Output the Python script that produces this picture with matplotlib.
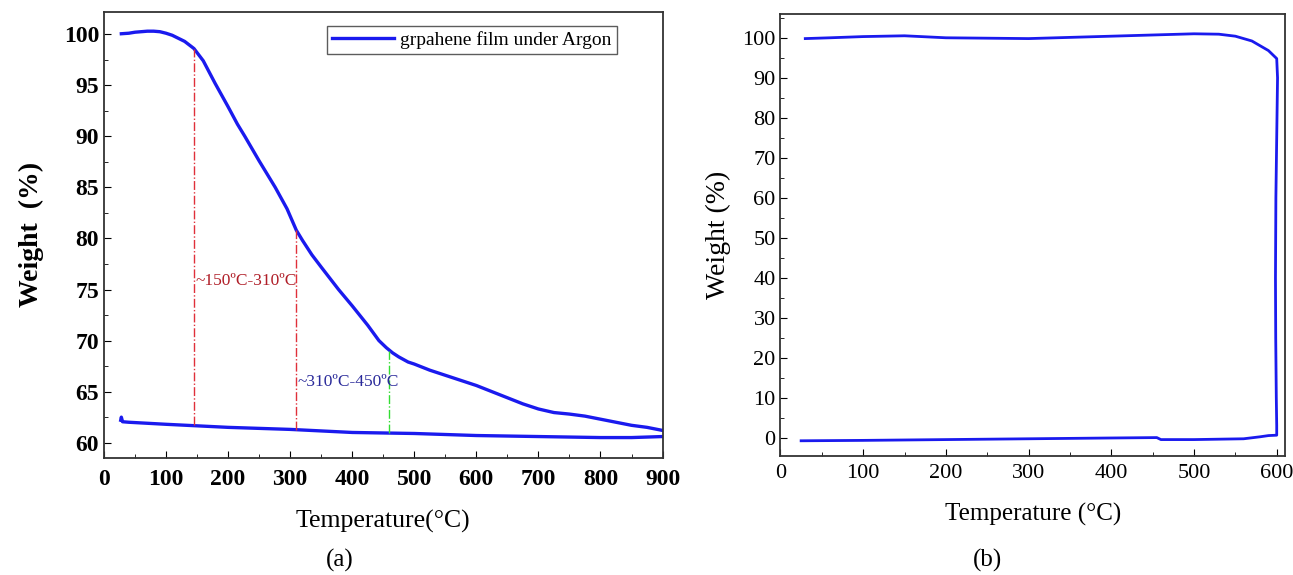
import matplotlib
matplotlib.use("Agg")
import matplotlib.pyplot as plt
from matplotlib.ticker import MultipleLocator

plt.rcParams['font.family'] = ['Liberation Serif', 'DejaVu Serif']
plt.rcParams['mathtext.fontset'] = 'stix'

# ---- Panel (a): graphene film under Argon ----
a_heat_T = [28, 40, 50, 60, 70, 80, 90, 100, 110, 120, 130, 145, 160, 179, 200, 215, 227, 250, 265, 276,
            295, 310, 320, 335, 350, 378, 400, 425, 443, 455, 465, 475, 490, 500, 525, 550, 575, 600,
            625, 650, 675, 700, 725, 750, 775, 800, 825, 850, 875, 900]
a_heat_W = [100.05, 100.1, 100.2, 100.25, 100.3, 100.3, 100.25, 100.1, 99.9, 99.6, 99.3, 98.6, 97.4, 95.2,
            92.9, 91.2, 90.0, 87.6, 86.1, 85.0, 82.9, 80.8, 79.8, 78.4, 77.2, 75.0, 73.4, 71.5, 70.0,
            69.3, 68.8, 68.4, 67.9, 67.7, 67.1, 66.6, 66.1, 65.6, 65.0, 64.4, 63.8, 63.3, 62.95, 62.8,
            62.6, 62.3, 62.0, 61.7, 61.5, 61.2]
a_cool_T = [900, 850, 800, 700, 600, 500, 400, 300, 200, 100, 40, 30, 28, 27]
a_cool_W = [60.6, 60.5, 60.5, 60.6, 60.7, 60.9, 61.0, 61.3, 61.5, 61.8, 62.0, 62.05, 62.5, 62.2]

a_vlines_T = [145, 310, 460]
a_vlines_ybot = [61.7, 61.2, 60.9]
a_vlines_ytop = [98.6, 80.8, 69.0]
a_vlines_col = ['#e0303a', '#e0303a', '#33dd33']

# ---- Panel (b) ----
b_T = [30, 60, 100, 150, 200, 250, 300, 350, 400, 450, 500, 530, 550, 570, 590, 600,
       601, 600, 599, 598.5, 598.8, 599.5, 600, 600,
       590, 580, 560, 500, 460, 455, 400, 300, 200, 100, 25]
b_W = [99.8, 100.0, 100.3, 100.5, 100.0, 99.9, 99.8, 100.1, 100.4, 100.7, 101.0, 100.9, 100.4, 99.2, 96.8, 94.8,
       90.0, 75.0, 60.0, 40.0, 25.0, 10.0, 3.0, 0.6,
       0.5, 0.2, -0.3, -0.5, -0.5, 0.0, -0.1, -0.3, -0.5, -0.7, -0.8]

blue = '#1a1aee'

fig = plt.figure(figsize=(12.93, 5.75), dpi=100)
ax1 = fig.add_axes([0.0804, 0.2035, 0.432, 0.776])
ax2 = fig.add_axes([0.6036, 0.207, 0.3902, 0.769])

# panel a
ax1.plot(a_heat_T, a_heat_W, color=blue, lw=2.4, label='grpahene film under Argon')
ax1.plot(a_cool_T, a_cool_W, color=blue, lw=2.4)
for t, yb, yt, c in zip(a_vlines_T, a_vlines_ybot, a_vlines_ytop, a_vlines_col):
    ax1.plot([t, t], [yb, yt], color=c, lw=1.0, ls='-.')
ax1.text(147, 75.8, '~150ºC-310ºC', color='#b01e28', fontsize=12.5, va='center', ha='left')
ax1.text(312, 65.9, '~310ºC-450ºC', color='#2a2a9a', fontsize=12.5, va='center', ha='left')
ax1.set_xlim(0, 900)
ax1.set_ylim(58.5, 102.2)
ax1.xaxis.set_major_locator(MultipleLocator(100))
ax1.xaxis.set_minor_locator(MultipleLocator(50))
ax1.yaxis.set_major_locator(MultipleLocator(5))
ax1.yaxis.set_minor_locator(MultipleLocator(2.5))
ax1.tick_params(which='both', direction='in', labelsize=17)
ax1.tick_params(which='major', length=5)
ax1.tick_params(which='minor', length=3)
ax1.tick_params(axis='x', pad=8)
for lab in ax1.get_xticklabels() + ax1.get_yticklabels():
    lab.set_fontweight('bold')
ax1.set_xlabel('Temperature(°C)', fontsize=18.5, labelpad=14)
ax1.set_ylabel('Weight  (%)', fontsize=20, fontweight='bold', labelpad=14)
leg = ax1.legend(loc='upper right', bbox_to_anchor=(0.935, 0.99), fontsize=14, fancybox=False,
                 edgecolor='#333333', handlelength=3.2, borderpad=0.25, handletextpad=0.3)
leg.get_frame().set_linewidth(1.0)

# panel b
ax2.plot(b_T, b_W, color=blue, lw=2.0)
ax2.set_xlim(0, 610)
ax2.set_ylim(-4.6, 106)
ax2.xaxis.set_major_locator(MultipleLocator(100))
ax2.xaxis.set_minor_locator(MultipleLocator(50))
ax2.yaxis.set_major_locator(MultipleLocator(10))
ax2.yaxis.set_minor_locator(MultipleLocator(5))
ax2.tick_params(which='both', direction='in', labelsize=16)
ax2.tick_params(which='major', length=5)
ax2.tick_params(which='minor', length=3)
ax2.tick_params(axis='x', pad=6)
ax2.set_xlabel('Temperature (°C)', fontsize=18, labelpad=14)
ax2.set_ylabel('Weight (%)', fontsize=20, labelpad=8)

for ax in (ax1, ax2):
    for s in ax.spines.values():
        s.set_linewidth(1.3)
        s.set_color('#333333')

fig.text(340 / 1293, 1 - 560 / 575, '(a)', fontsize=18, ha='center', va='center')
fig.text(988 / 1293, 1 - 560 / 575, '(b)', fontsize=18, ha='center', va='center')

fig.savefig('out.png', dpi=100)
